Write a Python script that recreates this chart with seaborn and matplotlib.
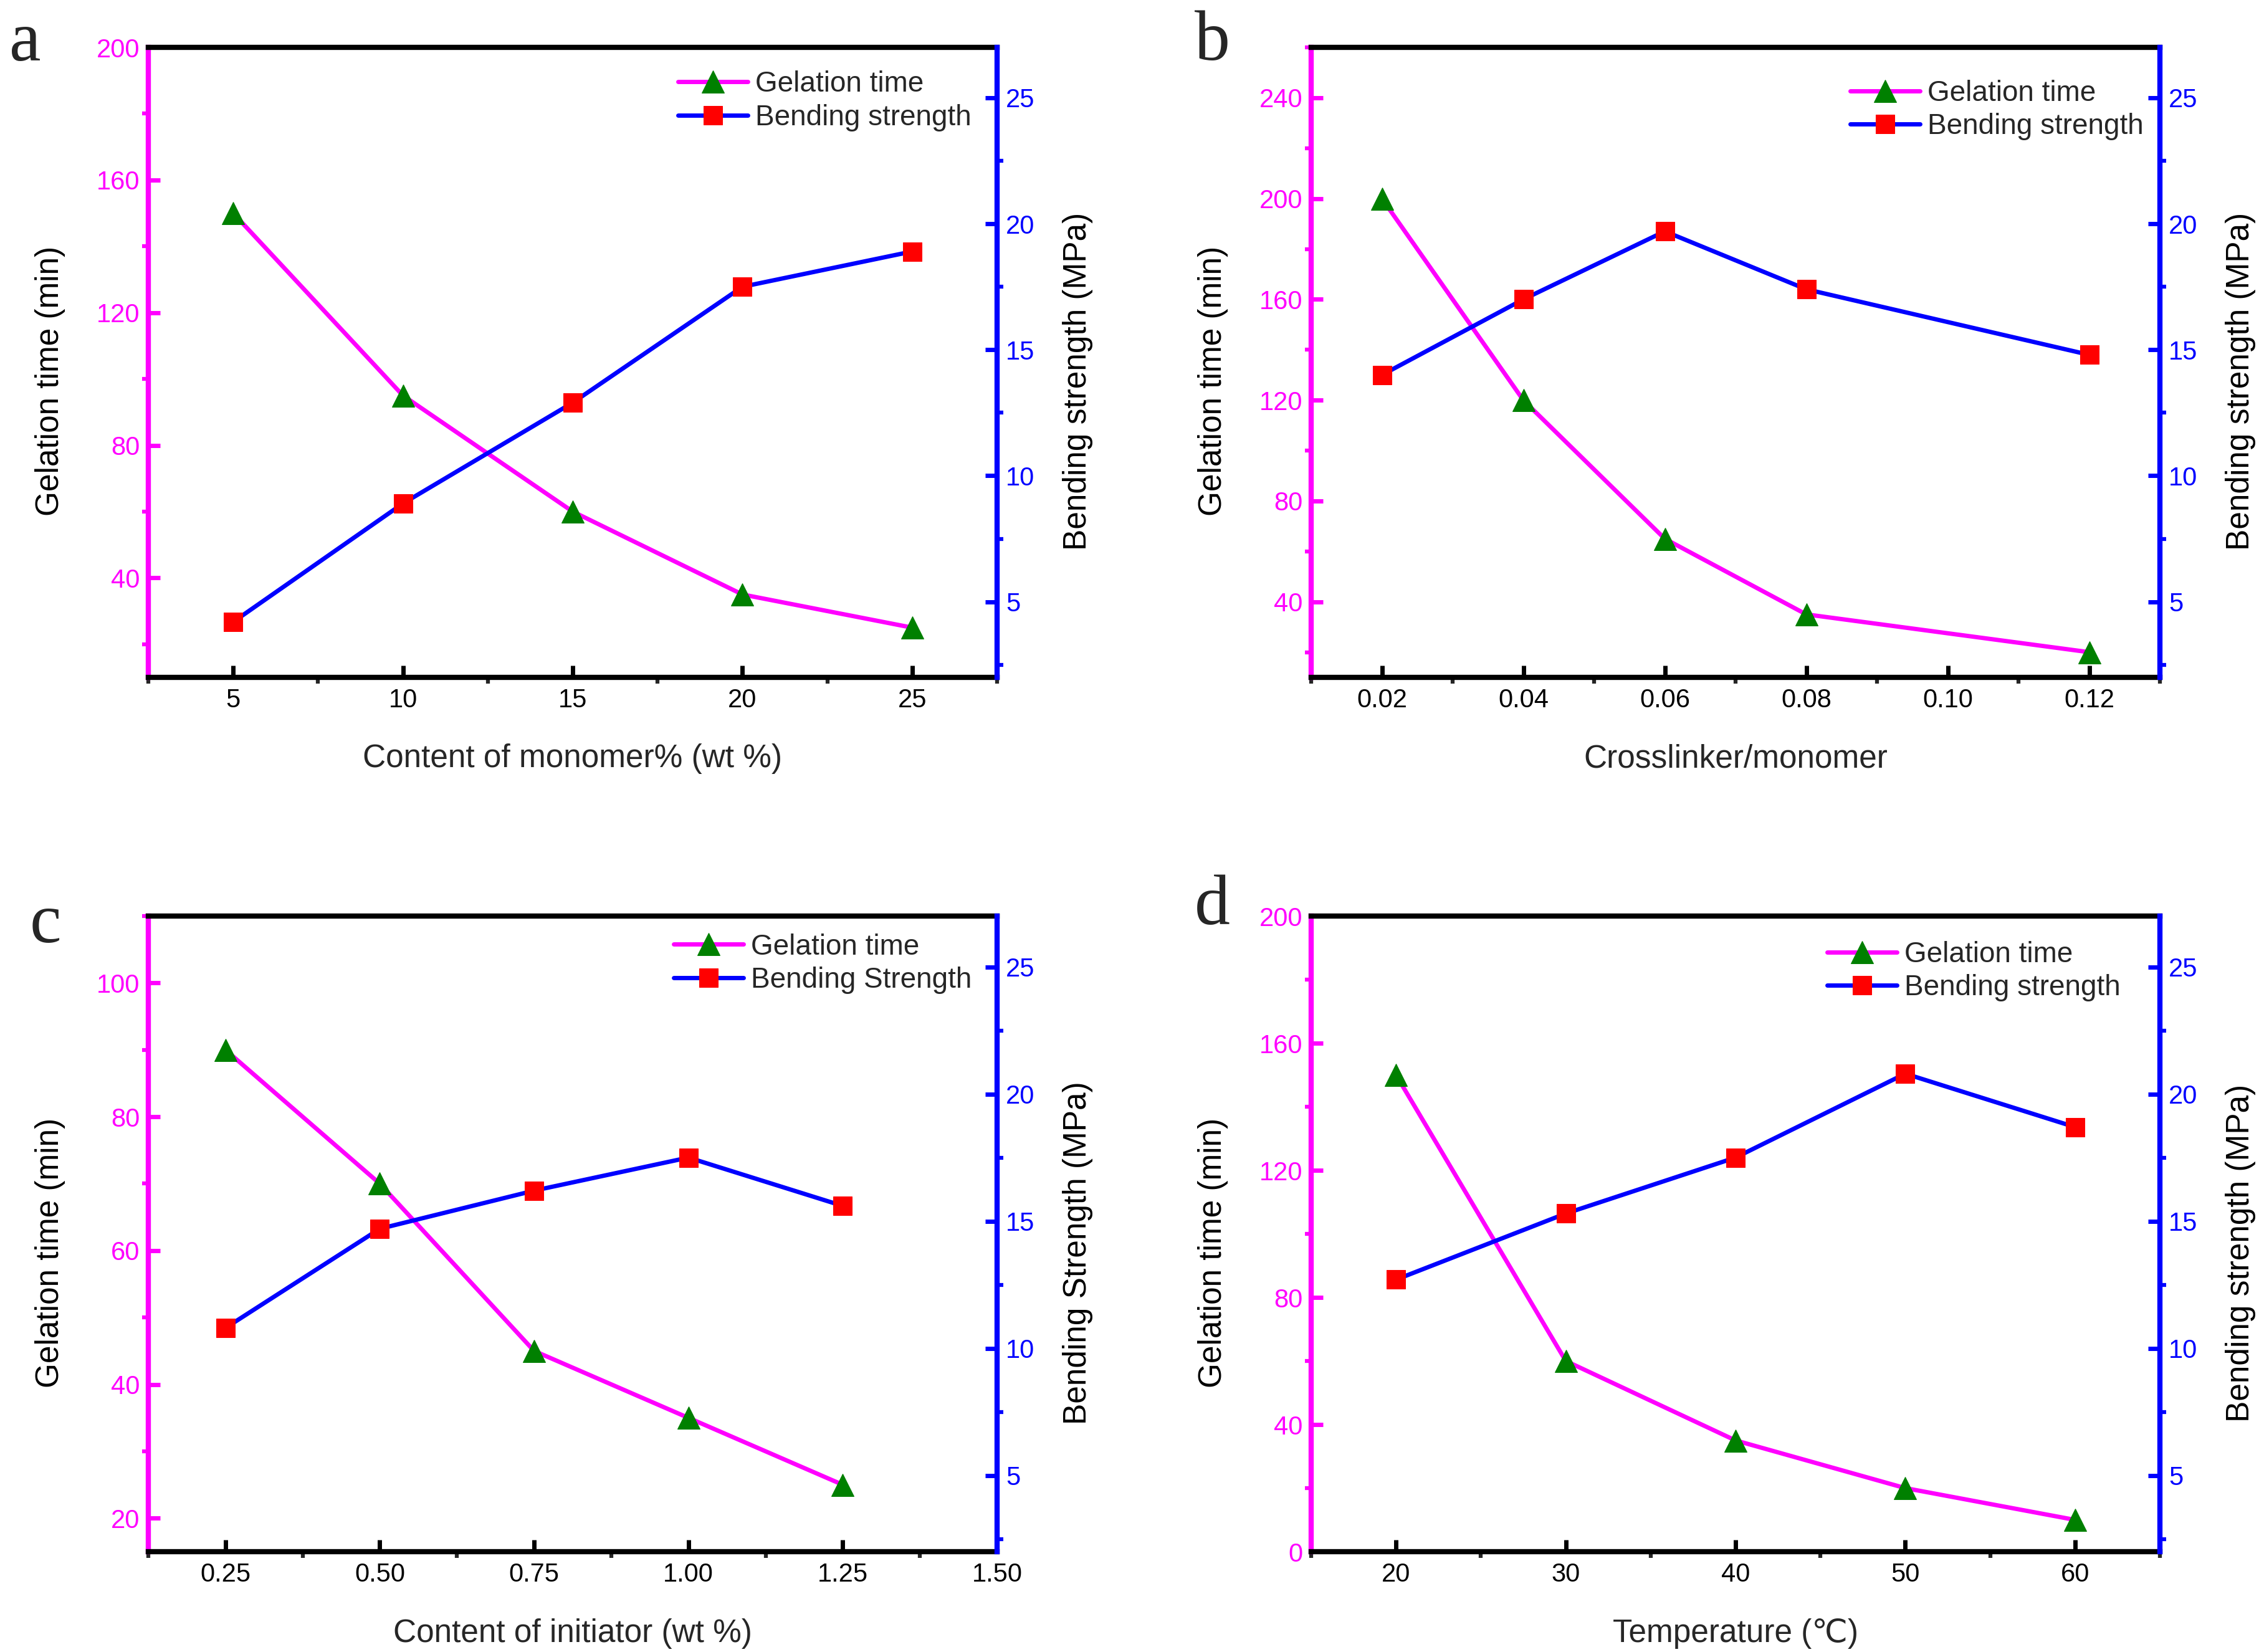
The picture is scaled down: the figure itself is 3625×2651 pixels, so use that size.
import matplotlib
matplotlib.use("Agg")
import matplotlib.pyplot as plt
from matplotlib.ticker import MultipleLocator, FormatStrFormatter
import seaborn as sns

# a: monomer content
monomer = [5, 10, 15, 20, 25]
gel_a = [150, 95, 60, 35, 25]
bend_a = [4.2, 8.9, 12.9, 17.5, 18.9]

# b: crosslinker / monomer
crosslinker = [0.02, 0.04, 0.06, 0.08, 0.12]
gel_b = [200, 120, 65, 35, 20]
bend_b = [14.0, 17.0, 19.7, 17.4, 14.8]

# c: initiator content
initiator = [0.25, 0.50, 0.75, 1.00, 1.25]
gel_c = [90, 70, 45, 35, 25]
bend_c = [10.8, 14.7, 16.2, 17.5, 15.6]

# d: temperature
temperature = [20, 30, 40, 50, 60]
gel_d = [150, 60, 35, 20, 10]
bend_d = [12.7, 15.3, 17.5, 20.8, 18.7]

MAG = "#FF00FF"
BLUE = "#0000FF"

sns.set_style("ticks")
plt.rcParams["font.family"] = ["Liberation Sans", "DejaVu Sans"]

W, H = 3625, 2651
fig = plt.figure(figsize=(W / 100, H / 100), dpi=100)


def panel(rect, x, gel, bend, xlabel, rlabel, bend_name, xlim, xmaj, xmin, xfmt,
          ylim, ymaj, leg_pos):
    ax = fig.add_axes(rect)
    ax2 = ax.twinx()

    sns.lineplot(x=x, y=gel, ax=ax, color=MAG, linewidth=5, marker="^",
                 markersize=26, markerfacecolor="#008000", markeredgecolor="#008000",
                 legend=False)
    sns.lineplot(x=x, y=bend, ax=ax2, color=BLUE, linewidth=5, marker="s",
                 markersize=21, markerfacecolor="#FF0000", markeredgecolor="#FF0000",
                 legend=False)

    ax.set_xlim(*xlim)
    ax.set_ylim(*ylim)
    ax2.set_ylim(2, 27)

    ax.xaxis.set_major_locator(MultipleLocator(xmaj))
    ax.xaxis.set_minor_locator(MultipleLocator(xmin))
    if xfmt:
        ax.xaxis.set_major_formatter(FormatStrFormatter(xfmt))
    ax.yaxis.set_major_locator(MultipleLocator(ymaj))
    ax.yaxis.set_minor_locator(MultipleLocator(ymaj / 2))
    ax2.yaxis.set_major_locator(MultipleLocator(5))
    ax2.yaxis.set_minor_locator(MultipleLocator(2.5))

    for s in ["top", "bottom"]:
        ax.spines[s].set_linewidth(6)
        ax.spines[s].set_color("black")
        ax2.spines[s].set_visible(False)
    ax.spines["left"].set_color(MAG)
    ax.spines["left"].set_linewidth(6)
    ax.spines["right"].set_visible(False)
    ax2.spines["left"].set_visible(False)
    ax2.spines["right"].set_color(BLUE)
    ax2.spines["right"].set_linewidth(6)

    ax.tick_params(axis="x", which="major", direction="in", length=14, width=5,
                   labelsize=30, pad=12, top=False, colors="black")
    ax.tick_params(axis="x", which="minor", direction="out", length=7, width=4.5, top=False)
    ax.tick_params(axis="y", which="major", direction="in", length=14, width=5,
                   labelsize=30, pad=10, colors=MAG, right=False)
    ax.tick_params(axis="y", which="minor", direction="out", length=7, width=4.5,
                   color=MAG, right=False)
    ax2.tick_params(axis="y", which="major", direction="in", length=14, width=5,
                    labelsize=30, pad=10, colors=BLUE)
    ax2.tick_params(axis="y", which="minor", direction="out", length=7, width=4.5,
                    color=BLUE)

    ax.set_xlabel(xlabel, fontsize=37)
    ax.xaxis.set_label_coords(0.5, -0.105)
    ax.set_ylabel("Gelation time (min)", fontsize=37, color="black")
    ax.yaxis.set_label_coords(-0.098, 0.47)
    ax2.set_ylabel(rlabel, fontsize=37, color="black")
    ax2.yaxis.set_label_coords(1.077, 0.47)

    ax2.legend([ax.lines[0], ax2.lines[0]], ["Gelation time", bend_name],
               loc="upper left", bbox_to_anchor=leg_pos, frameon=False,
               fontsize=33, handlelength=2.45, handletextpad=0.25,
               labelspacing=0.2, borderpad=0, borderaxespad=0, numpoints=1)
    return ax


wa = 1362 / W
top_row = (1 - 1087 / H, 1011 / H)
bot_row = (1 - 2490 / H, 1020 / H)
xa = 238 / W
xb = 2104 / W

panel([xa, top_row[0], wa, top_row[1]], monomer, gel_a, bend_a,
      "Content of monomer% (wt %)", "Bending strength (MPa)", "Bending strength",
      (2.5, 27.5), 5, 2.5, None, (10, 200), 40, (0.624, 0.963))
panel([xb, top_row[0], wa, top_row[1]], crosslinker, gel_b, bend_b,
      "Crosslinker/monomer", "Bending strength (MPa)", "Bending strength",
      (0.01, 0.13), 0.02, 0.01, "%.2f", (10, 260), 40, (0.635, 0.949))
panel([xa, bot_row[0], wa, bot_row[1]], initiator, gel_c, bend_c,
      "Content of initiator (wt %)", "Bending Strength (MPa)", "Bending Strength",
      (0.125, 1.5), 0.25, 0.125, "%.2f", (15, 110), 20, (0.619, 0.973))
panel([xb, bot_row[0], wa, bot_row[1]], temperature, gel_d, bend_d,
      "Temperature (\u2103)", "Bending strength (MPa)", "Bending strength",
      (15, 65), 10, 5, None, (0, 200), 40, (0.608, 0.961))

letters = [("a", 15, 97), ("b", 1917, 96), ("c", 48, 1512), ("d", 1917, 1483)]
for txt, px, py in letters:
    fig.text(px / W, 1 - py / H, txt, fontsize=82, ha="left", va="baseline",
             family=["Liberation Serif", "DejaVu Serif"])

fig.savefig("out.png", dpi=100)
